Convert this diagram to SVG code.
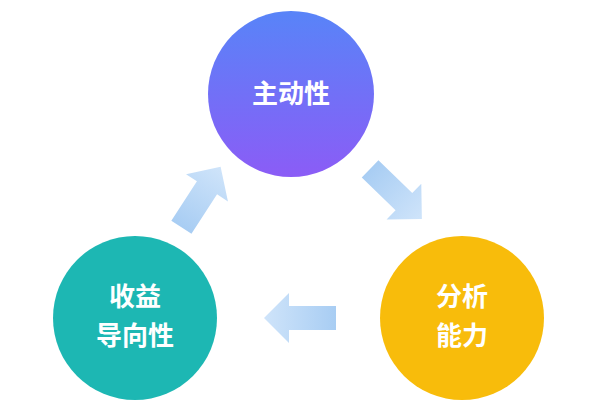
<svg xmlns="http://www.w3.org/2000/svg" width="600" height="407" viewBox="0 0 600 407">
<defs>
<linearGradient id="gTop" x1="0" y1="0" x2="0" y2="1"><stop offset="0" stop-color="#5884f8"/><stop offset="1" stop-color="#8b5cf6"/></linearGradient>
<linearGradient id="gArr" x1="0" y1="0" x2="1" y2="0"><stop offset="0" stop-color="#a8cdf3"/><stop offset="1" stop-color="#cfe4fa"/></linearGradient>
<path id="arr" d="M-36,-12 L11,-12 L11,-25 L36,0 L11,25 L11,12 L-36,12 Z"/>
</defs>
<style>
.lbl{font-family:"Noto Sans CJK SC","Noto Sans",sans-serif;font-weight:bold;font-size:26px;fill:#fff;text-anchor:middle}
.arrow{fill:url(#gArr)}
</style>
<rect width="600" height="407" fill="#fff"/>
<g id="connectors">
<use href="#arr" class="arrow" transform="translate(201,197) rotate(-57)"/>
<use href="#arr" class="arrow" transform="translate(396,194) rotate(44)"/>
<use href="#arr" class="arrow" transform="translate(300,318) rotate(180)"/>
</g>
<g id="node-top"><circle cx="291" cy="94" r="83" fill="url(#gTop)"/><text class="lbl" x="291" y="103">主动性</text></g>
<g id="node-left"><circle cx="135" cy="318" r="82" fill="#1db7b3"/><text class="lbl" x="135" y="306">收益</text><text class="lbl" x="135" y="345">导向性</text></g>
<g id="node-right"><circle cx="462" cy="318" r="82" fill="#f8bc0b"/><text class="lbl" x="462" y="306">分析</text><text class="lbl" x="462" y="345">能力</text></g>
</svg>
